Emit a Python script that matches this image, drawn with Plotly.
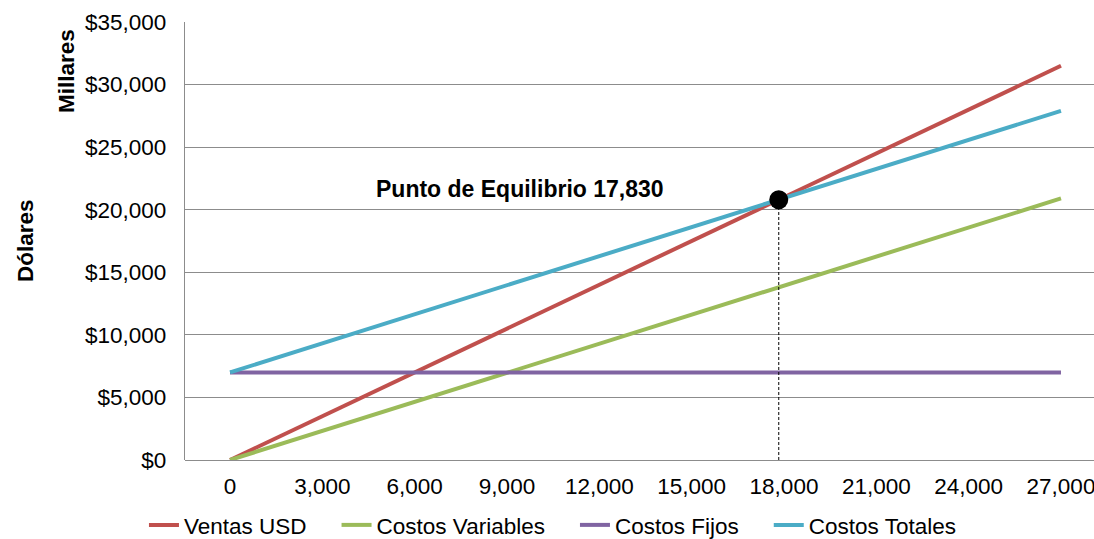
import plotly.graph_objects as go

# Units sold (category positions on the x axis)
unidades = [0, 3000, 6000, 9000, 12000, 15000, 18000, 21000, 24000, 27000]

# Series values in dollars (thousands)
ventas_usd = [0, 3500, 7000, 10500, 14000, 17500, 21000, 24500, 28000, 31500]
costos_variables = [0, 2320, 4640, 6960, 9290, 11610, 13930, 16250, 18570, 20900]
costos_fijos = [7000, 7000, 7000, 7000, 7000, 7000, 7000, 7000, 7000, 7000]
costos_totales = [7000, 9320, 11640, 13960, 16290, 18610, 20930, 23250, 25570, 27900]

# Break-even point
equilibrio_unidades = 17830
equilibrio_dolares = 20800

y_ticks = [0, 5000, 10000, 15000, 20000, 25000, 30000, 35000]

FONT = "Liberation Sans, Arial, sans-serif"
FS = 22.5
GRID = "#8c8c8c"
PAD = "\u00a0" * 4  # spacing between legend entries

series = [
    ("Ventas USD", ventas_usd, "#C0504D"),
    ("Costos Variables", costos_variables, "#9BBB59"),
    ("Costos Fijos", costos_fijos, "#8064A2"),
    ("Costos Totales", costos_totales, "#4BACC6"),
]

fig = go.Figure()
for name, vals, color in series:
    fig.add_trace(go.Scatter(
        x=unidades, y=vals, name=name + PAD, mode="lines",
        line=dict(color=color, width=4),
    ))

# Dashed drop line from the break-even point to the x axis
fig.add_trace(go.Scatter(
    x=[equilibrio_unidades, equilibrio_unidades], y=[0, equilibrio_dolares],
    mode="lines", line=dict(color="black", width=1, dash="3px,2px"),
    showlegend=False, hoverinfo="skip",
))
fig.add_trace(go.Scatter(
    x=[equilibrio_unidades], y=[equilibrio_dolares], mode="markers",
    marker=dict(color="black", size=19),
    showlegend=False,
))

fig.add_annotation(
    x=equilibrio_unidades, y=equilibrio_dolares, xref="x", yref="y",
    text=f"<b>Punto de Equilibrio {equilibrio_unidades:,}</b>",
    showarrow=False, xanchor="right", yanchor="middle",
    xshift=-113, yshift=11,
    font=dict(family=FONT, size=23, color="black"),
)

fig.add_annotation(
    x=0, y=0.5, xref="paper", yref="paper", xshift=-160,
    xanchor="center", yanchor="middle",
    text="<b>Dólares</b>", textangle=-90, showarrow=False,
    font=dict(family=FONT, size=FS, color="black"),
)
fig.add_annotation(
    x=0, y=0.888, xref="paper", yref="paper", xshift=-119,
    xanchor="center", yanchor="middle",
    text="<b>Millares</b>", textangle=-90, showarrow=False,
    font=dict(family=FONT, size=FS, color="black"),
)

fig.update_layout(
    width=1094, height=539,
    margin=dict(l=185, r=0, t=22, b=79, autoexpand=False),
    paper_bgcolor="white", plot_bgcolor="white",
    font=dict(family=FONT, size=FS, color="black"),
    showlegend=True,
    legend=dict(
        orientation="h", x=0.418, xanchor="center", y=-0.149, yanchor="middle",
        font=dict(family=FONT, size=FS, color="black"),
        itemwidth=30, tracegroupgap=0,
    ),
    xaxis=dict(
        range=[-1463, 28073],
        tickvals=unidades, ticktext=[f"{u:,}" for u in unidades],
        showgrid=False, zeroline=False,
        showline=False, ticks="",
        ticklabelstandoff=10, ticklabeloverflow="allow",
        tickfont=dict(family=FONT, size=FS),
    ),
    yaxis=dict(
        range=[0, 35000], tickvals=y_ticks,
        ticktext=[f"${v:,}" for v in y_ticks],
        showgrid=True, gridcolor=GRID, gridwidth=1.3,
        zeroline=True, zerolinecolor=GRID, zerolinewidth=1.3,
        showline=True, linecolor=GRID, linewidth=1.3,
        ticks="", ticklabelstandoff=13,
        tickfont=dict(family=FONT, size=FS),
    ),
)

fig.write_html("out.html")
